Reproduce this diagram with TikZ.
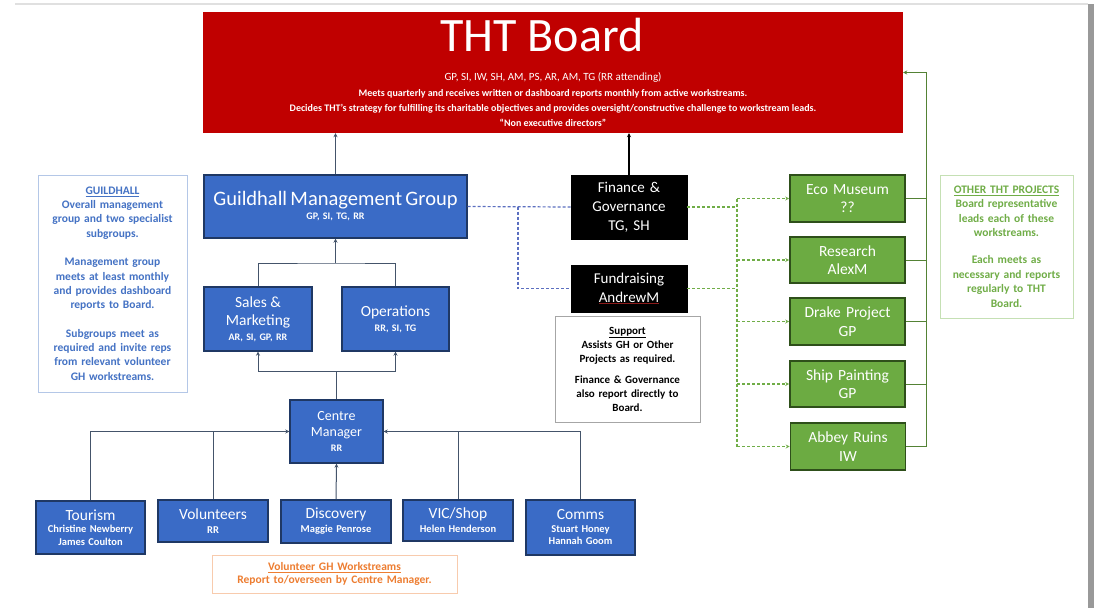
\documentclass[tikz,border=0pt]{standalone}
\usepackage{fontspec}
\setmainfont{Carlito}
\usetikzlibrary{arrows.meta}
\definecolor{boardred}{HTML}{C00000}
\definecolor{bfill}{HTML}{3A6BC6}
\definecolor{bdraw}{HTML}{1F3864}
\definecolor{gfill}{HTML}{6CAB42}
\definecolor{gdraw}{HTML}{2E4F1A}
\definecolor{connc}{HTML}{44546A}
\definecolor{bdashc}{HTML}{5B6FC0}
\definecolor{gdashc}{HTML}{70AD47}
\definecolor{glinec}{HTML}{548235}
\definecolor{ghtext}{HTML}{4472C4}
\definecolor{ghborder}{HTML}{B4C7E7}
\definecolor{ottext}{HTML}{70AD47}
\definecolor{otborder}{HTML}{C5E0B4}
\definecolor{vtext}{HTML}{ED7D31}
\definecolor{vborder}{HTML}{F8CBAD}
\definecolor{redul}{HTML}{8B1A1A}
\newcommand{\FS}[2]{\fontsize{#1}{#2}\selectfont}
\tikzset{
  bluebox/.style={draw=bdraw, fill=bfill, line width=1.4pt, text=white, align=center, inner sep=0pt},
  blackbox/.style={draw=black, fill=black, text=white, align=center, inner sep=0pt},
  greenbox/.style={draw=gdraw, fill=gfill, line width=1.6pt, text=white, align=center, inner sep=0pt},
  notebox/.style={draw, line width=0.8pt, align=center, inner sep=0pt},
  conn/.style={draw=connc, line width=1pt},
  arr/.style={-{Stealth[length=4pt,width=4pt]}},
  bdash/.style={draw=bdashc, line width=1.2pt, dash pattern=on 3pt off 2pt},
  gdash/.style={draw=gdashc, line width=1.2pt, dash pattern=on 3pt off 2pt},
  gline/.style={draw=glinec, line width=1pt},
}
\begin{document}
\begin{tikzpicture}[x=1pt,y=-1pt]
\useasboundingbox (0,0) rectangle (1095,608);
\fill[white] (0,0) rectangle (1095,608);
\draw[black!12, line width=1.5pt] (15,4) -- (1088,4);
\fill[black!40] (1088,4) rectangle (1094,608);

% Board
\node[fill=boardred, minimum width=700pt, minimum height=121pt, inner sep=0pt] (board) at (553,72.5) {};
\node[text=white, anchor=base, font=\FS{48}{48}] (btitle) at (542,51) {THT Board};
\node[text=white, anchor=base, font=\FS{11}{12}] (bl1) at (553,80) {GP, SI, IW, SH, AM, PS, AR, AM, TG (RR attending)};
\node[text=white, anchor=base, font=\bfseries\FS{10}{10}] (bl2) at (553,96) {Meets quarterly and receives written or dashboard reports monthly from active workstreams.};
\node[text=white, anchor=base, font=\bfseries\FS{10}{10}] (bl3) at (553,111) {Decides THT’s strategy for fulfilling its charitable objectives and provides oversight/constructive challenge to workstream leads.};
\node[text=white, anchor=base, font=\bfseries\FS{10}{10}] (bl4) at (553,126) {“Non executive directors”};

% Guildhall side
\node[bluebox, minimum width=263pt, text width=263pt, minimum height=63pt] (gmg) at (335.5,206.5)
  {{\FS{20.5}{22}Guildhall Management Group\par}{\bfseries\FS{10}{14}GP, SI, TG, RR\par}};
\node[bluebox, minimum width=108pt, text width=108pt, minimum height=64pt] (sm) at (258,319)
  {{\FS{15.5}{18}Sales \&\par Marketing\par}{\bfseries\FS{10}{15}AR, SI, GP, RR\par}};
\node[bluebox, minimum width=107pt, text width=107pt, minimum height=64pt] (ops) at (395.5,319)
  {{\FS{15.5}{17}Operations\par}{\bfseries\FS{10}{15}RR, SI, TG\par}};
\node[bluebox, minimum width=93pt, text width=93pt, minimum height=63pt] (cm) at (336.5,431.5)
  {{\FS{14}{16.5}Centre\par Manager\par}{\bfseries\FS{10}{15}RR\par}};

\node[bluebox, minimum width=109pt, text width=109pt, minimum height=53pt] (tour) at (90.5,527.5)
  {{\FS{15.5}{15}Tourism\par}{\bfseries\FS{10.5}{12.5}Christine Newberry\par James Coulton\par}};
\node[bluebox, minimum width=110pt, text width=110pt, minimum height=42pt] (vol) at (213,521)
  {{\FS{15.5}{15}Volunteers\par}{\bfseries\FS{10.5}{14}RR\par}};
\node[bluebox, minimum width=110pt, text width=110pt, minimum height=43pt] (disc) at (336,521.5)
  {{\FS{15.5}{15}Discovery\par}{\bfseries\FS{10.5}{14}Maggie Penrose\par}};
\node[bluebox, minimum width=110pt, text width=110pt, minimum height=41pt] (vic) at (458,520.5)
  {{\FS{15.5}{15}VIC/Shop\par}{\bfseries\FS{10.5}{14}Helen Henderson\par}};
\node[bluebox, minimum width=109pt, text width=109pt, minimum height=55pt] (comms) at (580.5,527.5)
  {{\FS{15.5}{15}Comms\par}{\bfseries\FS{10.5}{12.5}Stuart Honey\par Hannah Goom\par}};

\node[notebox, draw=ghborder, text=ghtext, minimum width=149pt, text width=149pt, minimum height=217pt,
      font=\bfseries\FS{11.5}{14.3}] (ghnote) at (112.5,283.5)
  {\underline{GUILDHALL}\par Overall management\par group and two specialist\par subgroups.\par\vspace{14.3pt}
   Management group\par meets at least monthly\par and provides dashboard\par reports to Board.\par\vspace{14.3pt}
   Subgroups meet as\par required and invite reps\par from relevant volunteer\par GH workstreams.\par};

\node[notebox, draw=vborder, text=vtext, minimum width=245pt, text width=245pt, minimum height=38pt,
      font=\bfseries\FS{11.5}{13}] (volnote) at (334.5,574)
  {\underline{Volunteer GH Workstreams}\par Report to/overseen by Centre Manager.\par};

% Finance / fundraising
\node[blackbox, minimum width=116pt, text width=116pt, minimum height=64pt, font=\FS{15}{19}] (fin) at (629,207)
  {Finance \&\par Governance\par TG, SH\par};
\node[blackbox, minimum width=116pt, text width=116pt, minimum height=47pt, font=\FS{15}{19}] (fund) at (629,288.5)
  {Fundraising\par{\color{redul}\underline{\color{white}AndrewM}}\par};
\node[notebox, draw=black!35, text=black, minimum width=145pt, text width=145pt, minimum height=106pt,
      font=\bfseries\FS{11}{14}] (support) at (627.5,369)
  {\underline{Support}\par Assists GH or Other\par Projects as required.\par\vspace{7pt}
   Finance \& Governance\par also report directly to\par Board.\par};

% Other projects
\node[greenbox, minimum width=115pt, text width=115pt, minimum height=47pt, font=\FS{15.5}{18.5}] (eco) at (847.5,198.5)
  {Eco Museum\par ??\par};
\node[greenbox, minimum width=115pt, text width=115pt, minimum height=46pt, font=\FS{15.5}{18.5}] (res) at (847.5,260)
  {Research\par AlexM\par};
\node[greenbox, minimum width=115pt, text width=115pt, minimum height=47pt, font=\FS{15.5}{18.5}] (drake) at (847.5,321.5)
  {Drake Project\par GP\par};
\node[greenbox, minimum width=115pt, text width=115pt, minimum height=46pt, font=\FS{15.5}{18.5}] (ship) at (847.5,384)
  {Ship Painting\par GP\par};
\node[greenbox, minimum width=115pt, text width=115pt, minimum height=47pt, font=\FS{15.5}{18.5}] (abbey) at (848,446.5)
  {Abbey Ruins\par IW\par};
\node[notebox, draw=otborder, text=ottext, minimum width=133pt, text width=133pt, minimum height=143pt,
      font=\bfseries\FS{11.5}{14.4}] (other) at (1006.5,246.5)
  {\underline{OTHER THT PROJECTS}\par Board representative\par leads each of these\par workstreams.\par\vspace{13pt}
   Each meets as\par necessary and reports\par regularly to THT\par Board.\par};

% Connectors: Guildhall tree
\coordinate (j1) at (335.5,263);
\coordinate (j2) at (336.5,371);
\draw[conn,arr] (gmg.north) -- (gmg.north |- board.south);
\draw[conn,arr] (j1) -- (gmg.south);
\draw[conn] (sm.north) |- (j1) -| (ops.north);
\draw[conn] (cm.north) -- (j2);
\draw[conn,arr] (j2) -| (sm.south);
\draw[conn,arr] (j2) -| (ops.south);
\draw[conn,arr] (tour.north) |- (cm.west);
\draw[conn] (vol.north) -- (vol.north |- cm.west);
\draw[conn,arr] (comms.north) |- (cm.east);
\draw[conn] (vic.north) -- (vic.north |- cm.east);
\draw[conn,arr] (disc.north) -- (cm.south);

% Finance to board
\draw[draw=black, line width=1.2pt, arr] (fin.north) -- (fin.north |- board.south);

% blue dashed
\coordinate (bj) at (518,206.5);
\draw[bdash] (gmg.east) -- (fin.west);
\draw[bdash] (bj) |- (fund.west);

% green dashed
\coordinate (gj) at (737,198.5);
\draw[gdash] (fin.east) -- (fin.east -| gj);
\draw[gdash] (fund.east) -- (fund.east -| gj);
\draw[gdash] (gj) -- (gj |- abbey.west);
\draw[gdash,arr] (gj) -- (eco.west);
\draw[gdash,arr] (gj |- res.west) -- (res.west);
\draw[gdash,arr] (gj |- drake.west) -- (drake.west);
\draw[gdash,arr] (gj |- ship.west) -- (ship.west);
\draw[gdash,arr] (gj |- abbey.west) -- (abbey.west);

% green solid back to board
\coordinate (gs) at (926,446.5);
\draw[gline] (eco.east) -- (eco.east -| gs);
\draw[gline] (res.east) -- (res.east -| gs);
\draw[gline] (drake.east) -- (drake.east -| gs);
\draw[gline] (ship.east) -- (ship.east -| gs);
\draw[gline,arr] (abbey.east) -- (gs) -- (gs |- board.east) -- (board.east);
\end{tikzpicture}
\end{document}
